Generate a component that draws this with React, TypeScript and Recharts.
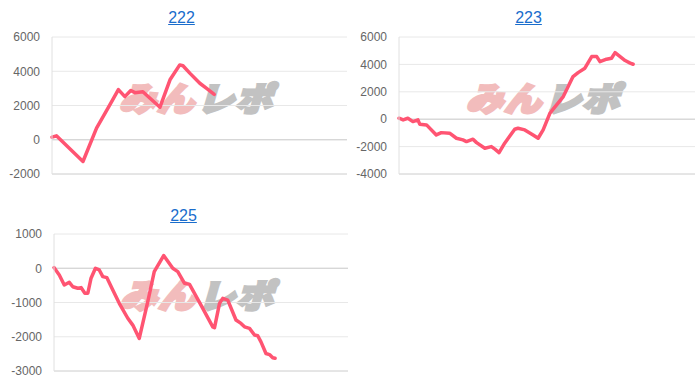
import { LineChart, Line, XAxis, YAxis, CartesianGrid, ReferenceLine } from "recharts";

// x positions are on a hidden 0..100 game scale, values are the running balance
const games222 = [0, 1.5, 10.5, 15.1, 19.6, 22.5, 24.7, 26.7, 28.1, 30.8, 36.6, 40, 43.3, 44.4, 46.7, 50.1, 52.4, 55];
const values222 = [150, 230, -1270, 680, 2040, 2930, 2520, 2880, 2750, 2800, 1900, 3500, 4370, 4320, 3890, 3300, 3000, 2650];

const games223 = [
  0, 1.4, 3.0, 4.7, 6.4, 7.0, 9.3, 12.6, 14.3, 17.1, 19.4, 21.6, 22.8, 25.0, 26.2, 29.0, 31.2, 32.4, 33.8, 35.7,
  39.1, 40.2, 42.5, 45.3, 47.0, 48.7, 51.0, 55.5, 58.8, 60.5, 62.8, 65.1, 66.8, 67.9, 70.1, 71.8, 73.0, 74.7, 76.4,
  78.1, 79.1,
];
const values223 = [
  70, -50, 70, -175, -50, -365, -415, -1150, -980, -1020, -1390, -1510, -1635, -1460, -1710, -2120, -2000, -2190,
  -2440, -1750, -730, -660, -780, -1150, -1390, -780, 440, 1650, 3110, 3400, 3720, 4570, 4570, 4200, 4380, 4450,
  4860, 4570, 4280, 4090, 4010,
];

const games225 = [
  0, 1.8, 3.5, 5.2, 6.4, 8.1, 9.2, 10.5, 11.5, 12.6, 14.1, 15.4, 16.6, 18.0, 20.0, 22.2, 25.1, 26.8, 29.0, 31.9,
  34.1, 37.3, 40.4, 42.1, 44.4, 46.1, 50.0, 54.0, 54.6, 56.3, 57.4, 59.1, 61.9, 63.6, 64.8, 66.5, 68.2, 69.3, 70.4,
  72.1, 73.3, 74.4, 75.2,
];
const values225 = [
  20, -195, -490, -410, -540, -585, -565, -730, -730, -290, 0, -50, -245, -275, -635, -1025, -1460, -1660, -2050,
  -975, -100, 370, 0, -100, -440, -470, -1075, -1710, -1735, -1025, -880, -930, -1510, -1610, -1710, -1755, -1950,
  -1970, -2150, -2490, -2520, -2615, -2630,
];

const ticks222 = [-2000, 0, 2000, 4000, 6000];
const ticks223 = [-4000, -2000, 0, 2000, 4000, 6000];
const ticks225 = [-3000, -2000, -1000, 0, 1000];

const LINE_COLOR = "#ff5472";
const FONT = '"Liberation Sans", Arial, Helvetica, sans-serif';

interface PanelProps {
  title: string;
  titleX: number;
  titleTop: number;
  plotLeft: number;
  plotTop: number;
  plotW: number;
  plotH: number;
  games: number[];
  values: number[];
  ticks: number[];
}

function Watermark({ cx, cy }: { cx: number; cy: number }) {
  const part = (color: string) => ({
    color,
    WebkitTextStroke: `3px ${color}`,
    transform: "skewX(-16deg) scaleX(1.12)",
    display: "inline-block",
    letterSpacing: 1,
  });
  return (
    <div
      style={{
        position: "absolute",
        left: cx - 100,
        top: cy - 20,
        width: 200,
        height: 40,
        display: "flex",
        alignItems: "center",
        justifyContent: "center",
        gap: 10,
        fontFamily: '"Noto Sans CJK JP", sans-serif',
        fontWeight: 900,
        fontSize: 33,
        lineHeight: "40px",
        whiteSpace: "nowrap",
      }}
    >
      <span style={part("#f2bcbc")}>みん</span>
      <span style={part("#c2c2c2")}>レポ</span>
    </div>
  );
}

function Panel({ title, titleX, titleTop, plotLeft, plotTop, plotW, plotH, games, values, ticks }: PanelProps) {
  const data = games.map((g, i) => ({ g, v: values[i] }));
  const pad = 10;
  const yMin = ticks[0];
  const yMax = ticks[ticks.length - 1];
  return (
    <>
      <div
        style={{
          position: "absolute",
          left: titleX - 100,
          top: titleTop,
          width: 200,
          textAlign: "center",
          fontSize: 16,
          lineHeight: "16px",
        }}
      >
        <a href="#" style={{ color: "#1a6dcc", textDecoration: "underline" }}>
          {title}
        </a>
      </div>
      <Watermark cx={plotLeft + plotW / 2} cy={plotTop + plotH / 2 - 9} />
      <div style={{ position: "absolute", left: 0, top: plotTop - pad }}>
        <LineChart
          width={plotLeft + plotW}
          height={plotH + pad * 2}
          data={data}
          margin={{ top: pad, right: 0, bottom: pad, left: 0 }}
        >
          <CartesianGrid vertical={false} stroke="#e8e8e8" />
          <XAxis type="number" dataKey="g" domain={[0, 100]} hide />
          <YAxis
            width={plotLeft}
            domain={[yMin, yMax]}
            ticks={ticks}
            interval={0}
            tickLine={false}
            tickSize={6}
            tickMargin={6}
            axisLine={{ stroke: "#e0e0e0" }}
            tick={{ fill: "#666", fontSize: 12, fontFamily: FONT }}
          />
          <ReferenceLine y={0} stroke="#cfcfcf" />
          <ReferenceLine y={yMin} stroke="#d8d8d8" />
          <Line
            type="linear"
            dataKey="v"
            stroke={LINE_COLOR}
            strokeWidth={3.5}
            strokeLinejoin="round"
            strokeLinecap="round"
            dot={false}
            activeDot={false}
            isAnimationActive={false}
          />
        </LineChart>
      </div>
    </>
  );
}

export default function App() {
  return (
    <div
      style={{
        position: "absolute",
        left: 0,
        top: 0,
        width: 700,
        height: 385,
        background: "#fff",
        fontFamily: FONT,
        overflow: "hidden",
      }}
    >
      <Panel
        title="222"
        titleX={181.5}
        titleTop={9.7}
        plotLeft={52}
        plotTop={37}
        plotW={295}
        plotH={137}
        games={games222}
        values={values222}
        ticks={ticks222}
      />
      <Panel
        title="223"
        titleX={528.5}
        titleTop={10}
        plotLeft={399}
        plotTop={37}
        plotW={296}
        plotH={137}
        games={games223}
        values={values223}
        ticks={ticks223}
      />
      <Panel
        title="225"
        titleX={183.5}
        titleTop={208}
        plotLeft={54}
        plotTop={234}
        plotW={294}
        plotH={137}
        games={games225}
        values={values225}
        ticks={ticks225}
      />
    </div>
  );
}
